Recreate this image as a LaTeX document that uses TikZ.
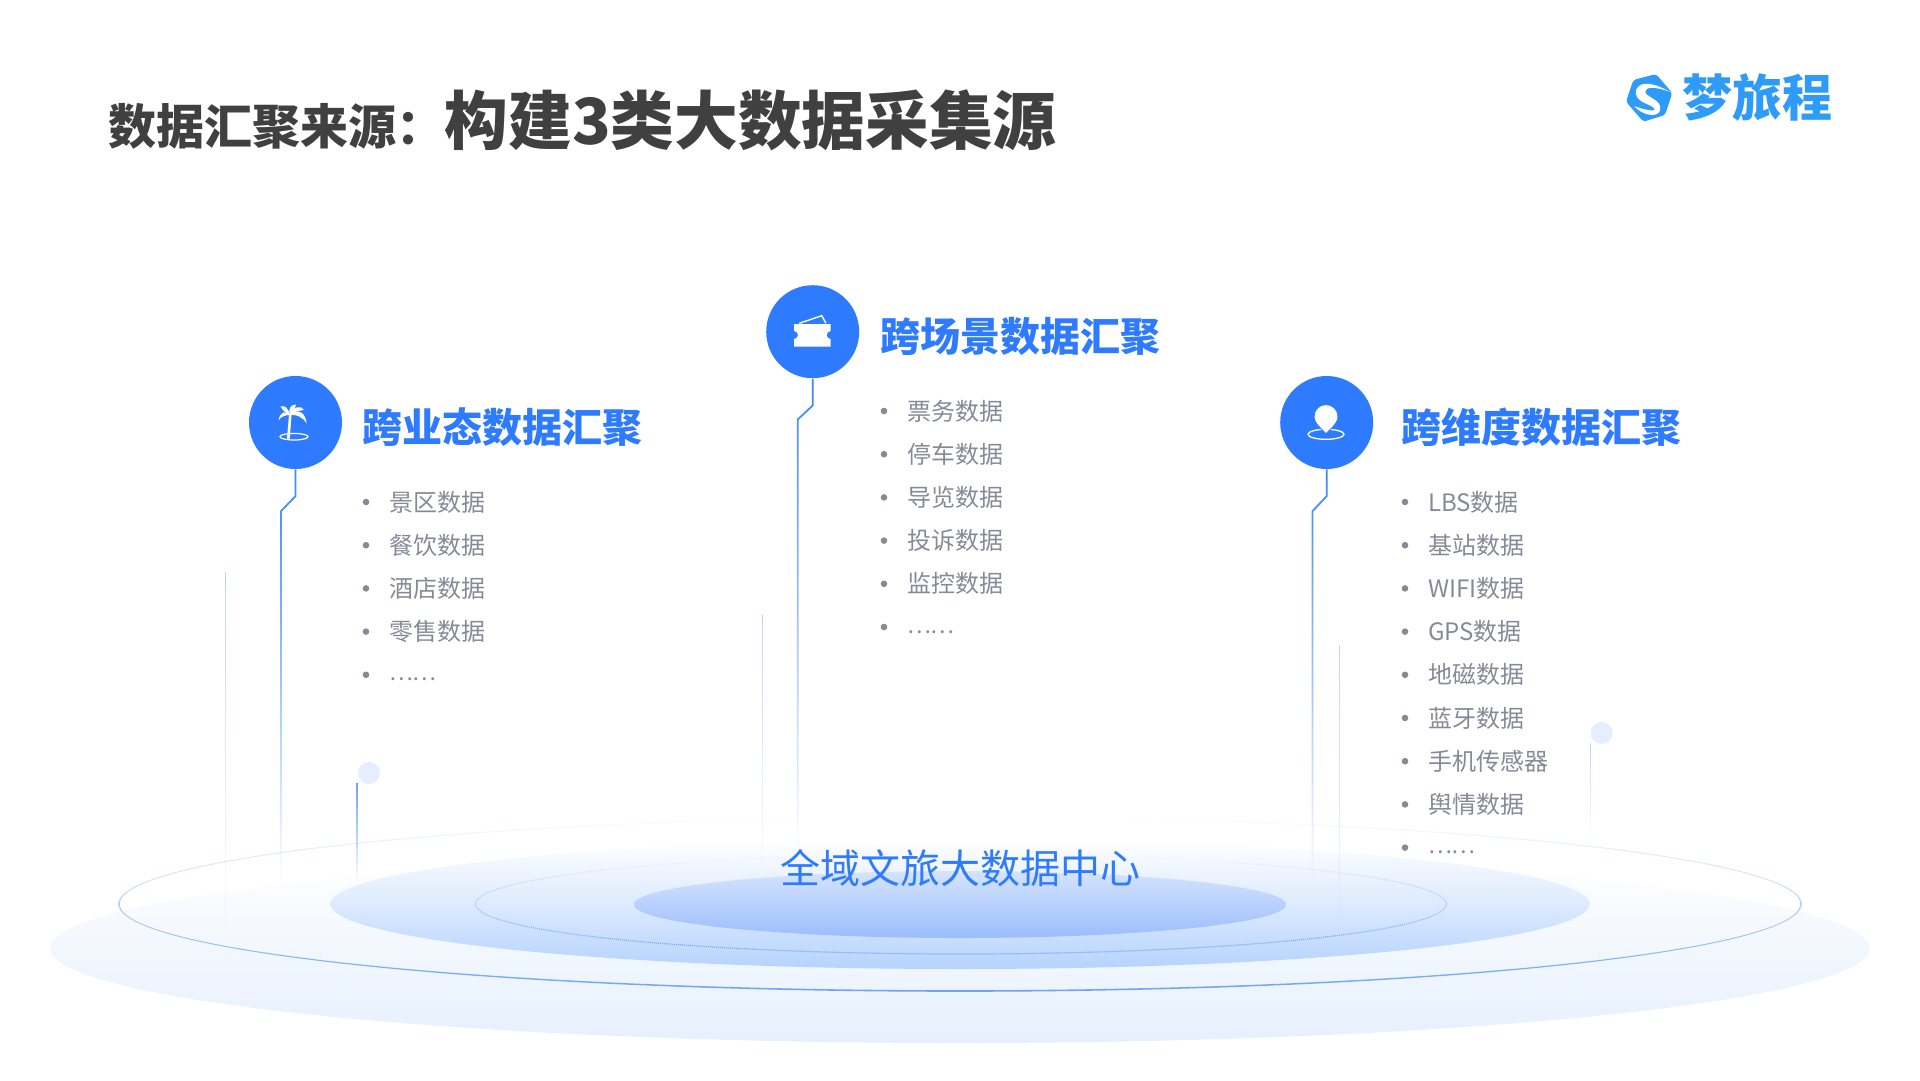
\documentclass[tikz,border=0pt]{standalone}
\usepackage{fontspec}
\setmainfont{Noto Sans CJK SC}
\usetikzlibrary{positioning,calc,fadings,shadings}

\definecolor{mainblue}{HTML}{2E7BFF}
\definecolor{wireblue}{HTML}{3A85FB}
\definecolor{paleblue}{HTML}{BDD5FB}
\definecolor{dotblue}{HTML}{E4EEFD}
\definecolor{ringblue}{HTML}{6CA4FA}
\definecolor{ringhalf}{HTML}{B4CFFB}
\definecolor{greytext}{HTML}{858B96}
\definecolor{titlegrey}{HTML}{404040}
\definecolor{logoblue}{HTML}{2F9BF9}
\definecolor{baseblue}{HTML}{E6F0FD}
\definecolor{midblue}{HTML}{B5D3FE}
\definecolor{midhalf}{HTML}{DDEAFE}
\definecolor{coretop}{HTML}{D5E4FE}
\definecolor{corebottom}{HTML}{9BBDFD}

\tikzfading[name=wirefade, top color=transparent!0, middle color=transparent!25, bottom color=transparent!100]
\tikzfading[name=ringfade, top color=transparent!100, middle color=transparent!55, bottom color=transparent!0]

\newcommand{\faintbar}[4][paleblue]{
	\fill[faintline, fill = #1] (#2,#3) rectangle (#2+1.2,#4) (#2-40,#3) (#2+40,#3);
}
\newcommand{\moredots}{\raisebox{3pt}{\fontsize{22.5}{24}\selectfont ……}}

\tikzset{
	datapicture/.style = {
		x = 1pt,
		y = -1pt,
		node distance = 43.2pt,
	},
	iconnode/.style = {
		circle,
		fill = mainblue,
		minimum size = 93pt,
		inner sep = 0pt
	},
	headnode/.style = {
		anchor = west,
		inner sep = 0pt,
		text = mainblue,
		font = \fontsize{40}{40}\selectfont\bfseries
	},
	itemtext/.style = {
		text width = 200pt,
		text height = 21pt,
		text depth = 3pt,
		inner sep = 0pt,
		align = left,
		text = greytext,
		font = \fontsize{24}{24}\selectfont
	},
	itembullet/.style = {
		circle,
		fill = greytext,
		minimum size = 6.6pt,
		inner sep = 0pt,
		left of = #1,
		node distance = 123pt
	},
	wire/.style = {
		draw = wireblue,
		line width = 1.8pt,
		path fading = wirefade
	},
	faintline/.style = {
		path fading = wirefade
	},
	sidedot/.style = {
		circle,
		fill = dotblue,
		minimum size = 22pt,
		inner sep = 0pt
	}
}

\begin{document}
\begin{tikzpicture}[datapicture]
	\useasboundingbox (0,0) rectangle (1920,1080);

	% platform
	\shade[top color = white, bottom color = baseblue] (960,948) ellipse (910pt and 95pt);
	\shade[even odd rule, top color = white, middle color = ringhalf, bottom color = ringblue] (960,904) ellipse (841.7pt and 87.8pt) (960,904) ellipse (840.3pt and 86.2pt);
	\shade[top color = white, bottom color = midblue, middle color = midhalf] (960,904) ellipse (629.5pt and 65pt);
	\draw[ringblue, line width = 1.2pt, dash pattern = on 1pt off 1pt, path fading = ringfade] (961,904) ellipse (485.6pt and 50pt);
	\shade[top color = coretop, bottom color = corebottom] (960,904.5) ellipse (326pt and 33.5pt);

	% logo
	\fill[logoblue, rounded corners = 3pt] (1656,74) -- (1672.3,93) -- (1665,115) -- (1643.3,121.7) -- (1626,101.7) -- (1633.3,80) -- cycle;
	\fill[white] (1670,92) .. controls (1655,83) and (1640,80) .. (1636,90) .. controls (1634,102) and (1648,103) .. (1654,108) .. controls (1657,111) and (1650,112) .. (1634,106) .. controls (1645,118) and (1663,118) .. (1660,106) .. controls (1658,98) and (1642,96) .. (1646,90) .. controls (1648,86) and (1660,88) .. (1670,92) -- cycle;
	\node[inner sep = 0pt, text = logoblue, font = \fontsize{50}{50}\selectfont\bfseries] (logotext) at (1757,97) {梦旅程};

	% title
	\node[anchor = base west, inner sep = 0pt, text = titlegrey, font = \fontsize{48}{48}\selectfont\bfseries] (titlehead) at (108,144) {数据汇聚来源：};
	\node[base right = 0pt of titlehead, inner sep = 0pt, text = titlegrey, font = \fontsize{63.7}{64}\selectfont\bfseries] (titlemain) {构建3类大数据采集源};

	% icon circles
	\node[iconnode] (yetai) at (295.5,422.5) {};
	\node[iconnode] (changjing) at (812.7,331.7) {};
	\node[iconnode] (weidu) at (1326.7,422.5) {};

	% wires
	\coordinate (yetaikink) at (295.5,496);
	\coordinate (yetaibend) at (281,511);
	\coordinate (yetaiend) at (281,880);
	\coordinate (changjingkink) at (812.7,405);
	\coordinate (changjingbend) at (797.7,419);
	\coordinate (changjingend) at (797.7,850);
	\coordinate (weidukink) at (1326.7,496);
	\coordinate (weidubend) at (1312.5,511);
	\coordinate (weiduend) at (1312.5,880);
	\path[wire] (yetai.south) -- (yetaikink) -- (yetaibend) -- (yetaiend);
	\path[wire] (changjing.south) -- (changjingkink) -- (changjingbend) -- (changjingend);
	\path[wire] (weidu.south) -- (weidukink) -- (weidubend) -- (weiduend);

	% faint lines and side dots
	\node[sidedot] (leftdot) at (369,773) {};
	\node[sidedot] (rightdot) at (1601.7,733) {};
	\faintbar{224.5}{572}{943}
	\faintbar[ringblue]{356.4}{783}{883}
	\faintbar{761.5}{615}{877}
	\faintbar{1339.2}{645}{953}
	\faintbar{1589.5}{743}{840}

	% palm
	\fill[white] (290,415) .. controls (285,410) and (280,412) .. (278.5,420.5) .. controls (281,416) and (286,415) .. (290,415) -- cycle;
	\fill[white] (290,415) .. controls (288,408) and (285,405) .. (280.5,406.5) .. controls (283,411) and (286,413) .. (290,415) -- cycle;
	\fill[white] (290,415) .. controls (288,408) and (291,404.5) .. (296,404.5) .. controls (295,409) and (293,412) .. (290,415) -- cycle;
	\fill[white] (290,415) .. controls (294,406) and (301,405) .. (304,410) .. controls (299,410.5) and (294,412) .. (290,415) -- cycle;
	\fill[white] (290,415) .. controls (296,409) and (305,410) .. (306.7,423.5) .. controls (303,417) and (296,414) .. (290,415) -- cycle;
	\fill[white] (289,415) -- (291.5,415) -- (289.8,438.5) -- (287,438.5) -- cycle;
	\draw[white, line width = 1.2pt] (294,436.7) ellipse (14pt and 3.3pt);

	% ticket
	\fill[white] (794,324) -- (830.7,324) -- (830.7,331) arc (90:270:4pt) -- (830.7,346.7) -- (794,346.7) -- (794,339) arc (-90:90:4pt) -- cycle;
	\draw[white, line width = 1.4pt] (799.3,323.3) -- (821.7,315.7) -- (826,323.3);

	% pin
	\draw[white, line width = 1.3pt] (1326,434.3) ellipse (18pt and 5pt);
	\fill[white, draw = mainblue, line width = 1pt] (1326,434) .. controls (1322,429) and (1314,424) .. (1314,416.5) .. controls (1314,409.5) and (1319.5,404.5) .. (1326,404.5) .. controls (1332.5,404.5) and (1338,409.5) .. (1338,416.5) .. controls (1338,424) and (1330,429) .. (1326,434) -- cycle;

	% headings
	\node[headnode] (yetaihead) at (362,427) {跨业态数据汇聚};
	\node[headnode] (changjinghead) at (880,336.7) {跨场景数据汇聚};
	\node[headnode] (weiduhead) at (1401,427) {跨维度数据汇聚};

	% first list
	\node[itemtext] (a1) at (489,502) {景区数据};
	\node[itemtext, below of = a1] (a2) {餐饮数据};
	\node[itemtext, below of = a2] (a3) {酒店数据};
	\node[itemtext, below of = a3] (a4) {零售数据};
	\node[itemtext, below of = a4] (a5) {\moredots};
	\node[itembullet = a1] (a1dot) {};
	\node[itembullet = a2] (a2dot) {};
	\node[itembullet = a3] (a3dot) {};
	\node[itembullet = a4] (a4dot) {};
	\node[itembullet = a5] (a5dot) {};

	% second list
	\node[itemtext] (b1) at (1007,411) {票务数据};
	\node[itemtext, below of = b1] (b2) {停车数据};
	\node[itemtext, below of = b2] (b3) {导览数据};
	\node[itemtext, below of = b3] (b4) {投诉数据};
	\node[itemtext, below of = b4] (b5) {监控数据};
	\node[itemtext, below of = b5] (b6) {\moredots};
	\node[itembullet = b1] (b1dot) {};
	\node[itembullet = b2] (b2dot) {};
	\node[itembullet = b3] (b3dot) {};
	\node[itembullet = b4] (b4dot) {};
	\node[itembullet = b5] (b5dot) {};
	\node[itembullet = b6] (b6dot) {};

	% third list
	\node[itemtext] (c1) at (1528,502) {LBS数据};
	\node[itemtext, below of = c1] (c2) {基站数据};
	\node[itemtext, below of = c2] (c3) {WIFI数据};
	\node[itemtext, below of = c3] (c4) {GPS数据};
	\node[itemtext, below of = c4] (c5) {地磁数据};
	\node[itemtext, below of = c5] (c6) {蓝牙数据};
	\node[itemtext, below of = c6] (c7) {手机传感器};
	\node[itemtext, below of = c7] (c8) {舆情数据};
	\node[itemtext, below of = c8] (c9) {\moredots};
	\node[itembullet = c1] (c1dot) {};
	\node[itembullet = c2] (c2dot) {};
	\node[itembullet = c3] (c3dot) {};
	\node[itembullet = c4] (c4dot) {};
	\node[itembullet = c5] (c5dot) {};
	\node[itembullet = c6] (c6dot) {};
	\node[itembullet = c7] (c7dot) {};
	\node[itembullet = c8] (c8dot) {};
	\node[itembullet = c9] (c9dot) {};

	\node[inner sep = 0pt, text = mainblue, font = \fontsize{40}{40}\selectfont] (center) at (960,868) {全域文旅大数据中心};
\end{tikzpicture}
\end{document}
